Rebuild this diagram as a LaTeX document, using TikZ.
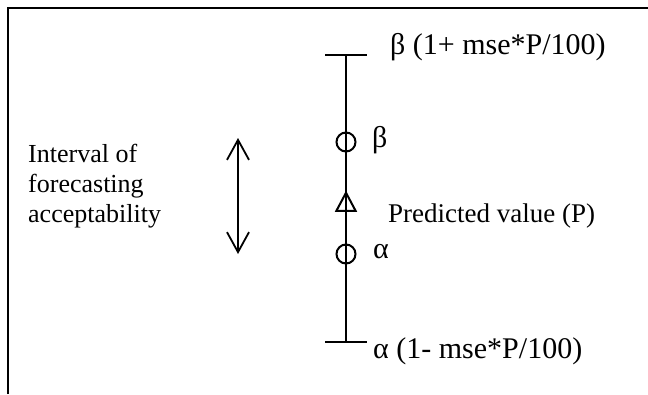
\documentclass[tikz,border=0pt]{standalone}
\usepackage{fontspec}
\setmainfont{Liberation Serif}
\usetikzlibrary{arrows.meta,shapes.geometric}

\begin{document}
\begin{tikzpicture}[x=1pt, y=-1pt,
  axis/.style={line width=2pt},
  tick/.style={line width=2pt},
  mark circ/.style={circle, draw, line width=2pt, minimum size=19pt, inner sep=0pt},
  predtri/.style={isosceles triangle, isosceles triangle apex angle=56,
    shape border rotate=90, draw, line width=2pt, inner sep=0pt, minimum height=18pt},
  lbl/.style={anchor=west, inner sep=0pt, font=\fontsize{26}{30}\selectfont},
  biglbl/.style={lbl, font=\fontsize{30}{34}\selectfont}]
\useasboundingbox (0,0) rectangle (648,394);
% frame (top and left edge only)
\draw[line width=1.6pt] (8,394) -- (8,8) -- (648,8);
% upper and lower limits
\coordinate (top) at (346,55);
\coordinate (bot) at (346,342);
\draw[tick] (325,55) -- (367,55);
\draw[tick] (325,342) -- (367,342);
\draw[axis] (top) -- (bot);
% markers on the line
\node[mark circ] (beta) at (346,142) {};
\node[predtri] (pred) at (346,205) {};
\node[mark circ] (alpha) at (346,254) {};
% labels
\node[biglbl] (upper) at (390,47) {β (1+ mse*P/100)};
\node[biglbl] (lower) at (373,351) {α (1- mse*P/100)};
\node[biglbl] (betalbl) at (372,140) {β};
\node[lbl, font=\fontsize{27}{30}\selectfont] (predlbl) at (388,216) {Predicted value (P)};
\node[biglbl] (alphalbl) at (373,252) {α};
\node[lbl, align=left] (interval) at (28,186)
  {Interval of\\forecasting\\acceptability};
% interval arrow
\coordinate (ihi) at (238,138);
\coordinate (ilo) at (238,254);
\draw[line width=1.8pt, {Straight Barb[length=20pt,width=22pt]}-{Straight Barb[length=20pt,width=22pt]}] (ihi) -- (ilo);
\end{tikzpicture}
\end{document}
